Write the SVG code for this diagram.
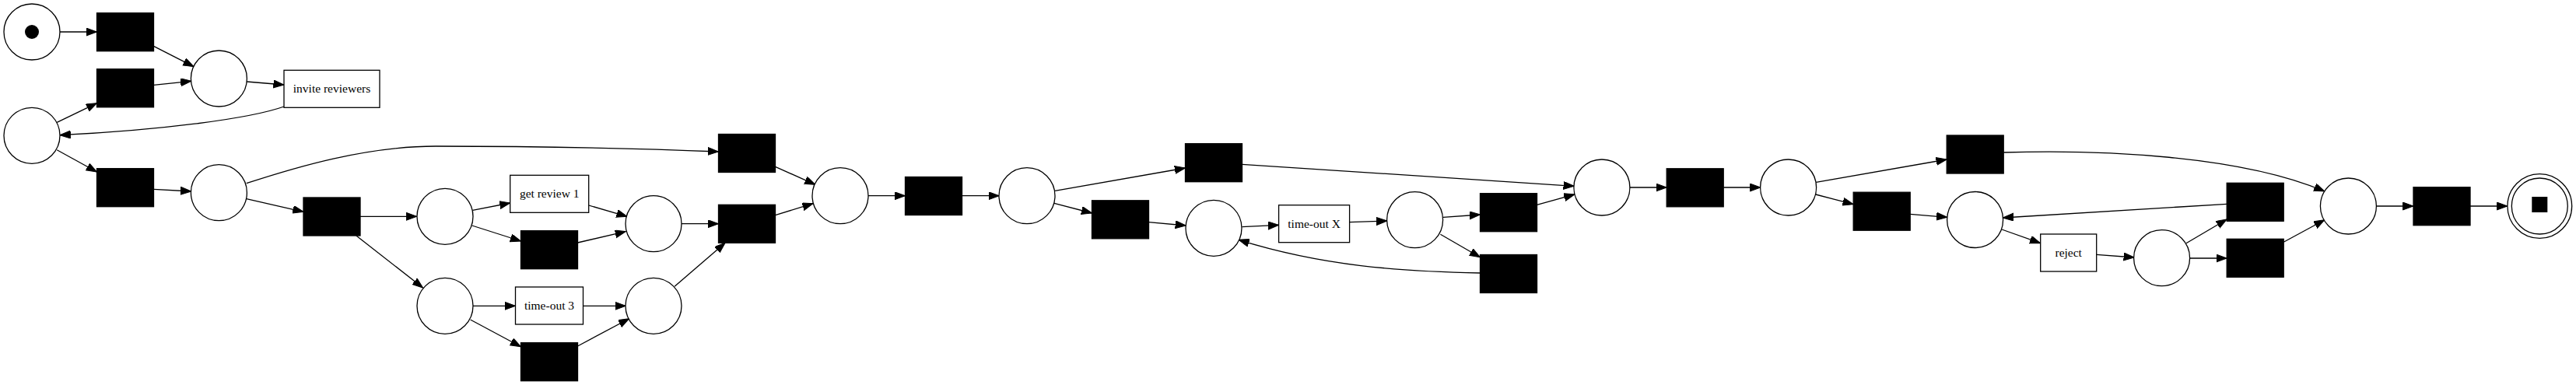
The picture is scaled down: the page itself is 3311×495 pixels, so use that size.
<svg xmlns="http://www.w3.org/2000/svg" width="3311" height="495" viewBox="0 0 3311 495">
<style>
.pl{fill:#fff;stroke:#000;stroke-width:1.3}
.tr{fill:#000;stroke:#000;stroke-width:1.3}
.lt{fill:#fff;stroke:#000;stroke-width:1.3}
.lb{font-family:"Liberation Serif","Times New Roman",serif;font-size:15.5px;text-anchor:middle;fill:#000}
.e{fill:none;stroke:#000;stroke-width:1.3;marker-end:url(#ah)}
</style>
<defs>
<marker id="ah" markerUnits="userSpaceOnUse" markerWidth="14" markerHeight="11" refX="13.6" refY="5" orient="auto">
<path d="M0,0 L13.6,5 L0,10 z" fill="#000" stroke="#000" stroke-width="1"/>
</marker>
</defs>
<rect width="3311" height="495" fill="#fff"/>
<g id="connectors">
<path class="e" d="M77,41 L124.5,41"/>
<path class="e" d="M197.5,59.3 L249,85.7"/>
<path class="e" d="M197.5,109.3 L245.7,104.3"/>
<path class="e" d="M317.1,105 L365,109"/>
<path class="e" d="M365,137 C320,153 200,168 77.1,173.7"/>
<path class="e" d="M73.2,157.3 L124.5,132.7"/>
<path class="e" d="M73.2,192.7 L124.5,221"/>
<path class="e" d="M197.5,243.3 L245.7,246"/>
<path class="e" d="M316.8,235.7 C380,215 470,188 560,188 C700,188 850,192 923.5,195"/>
<path class="e" d="M316.8,255.7 L390,272.3"/>
<path class="e" d="M462.9,278.3 L535.7,278.3"/>
<path class="e" d="M457.9,303 L543.6,370"/>
<path class="e" d="M607.5,270.3 L655.7,261"/>
<path class="e" d="M606.8,290 L669.5,310"/>
<path class="e" d="M756.7,264 L806,278.3"/>
<path class="e" d="M742.5,312 L804.3,297.7"/>
<path class="e" d="M875.7,287.7 L923.5,287.7"/>
<path class="e" d="M607.5,393.3 L662.5,393.3"/>
<path class="e" d="M604.6,411 L669.5,445.7"/>
<path class="e" d="M749.5,393.3 L804.3,393.3"/>
<path class="e" d="M742.5,445 L808.6,409.7"/>
<path class="e" d="M867.1,368.3 L932.1,312.3"/>
<path class="e" d="M996.5,214.3 L1047.9,237.3"/>
<path class="e" d="M996.5,276.7 L1045,261.7"/>
<path class="e" d="M1116,251.7 L1163.5,251.7"/>
<path class="e" d="M1236.5,251.7 L1284.3,251.7"/>
<path class="e" d="M1356,245.3 L1523.5,216"/>
<path class="e" d="M1355,261.3 L1403.5,274"/>
<path class="e" d="M1476.5,285.7 L1524.3,290"/>
<path class="e" d="M1902.5,351 C1800,349 1700,342 1592,308.3"/>
<path class="e" d="M1596.4,291.7 L1643.6,289.3"/>
<path class="e" d="M1734.6,285.7 L1782.9,284"/>
<path class="e" d="M1855,279.3 L1902.5,276"/>
<path class="e" d="M1851.4,301.3 L1902.5,330.7"/>
<path class="e" d="M1596.5,211.3 L2023.2,239.3"/>
<path class="e" d="M1975.5,263.3 L2023.9,250"/>
<path class="e" d="M2094.6,241 L2142.2,241"/>
<path class="e" d="M2215.2,241 L2262.9,241"/>
<path class="e" d="M2334.3,234.3 L2502.2,205"/>
<path class="e" d="M2333.7,250 L2382.2,262.7"/>
<path class="e" d="M2455.2,275.3 L2502.7,279.3"/>
<path class="e" d="M2573,295 L2622.7,312.7"/>
<path class="e" d="M2862.2,262.3 L2574.3,280"/>
<path class="e" d="M2575.2,196 C2700,192 2880,200 2987.8,246"/>
<path class="e" d="M2694.7,327.3 L2743.2,331"/>
<path class="e" d="M2810,312.7 L2862.2,282"/>
<path class="e" d="M2814,332 L2862.2,332"/>
<path class="e" d="M2935.2,311.3 L2987.8,282.7"/>
<path class="e" d="M3054.2,265 L3102,265"/>
<path class="e" d="M3175,265 L3222.9,265"/>
</g>
<g id="p_start"><circle class="pl" cx="41" cy="41" r="36"/><circle cx="41" cy="41" r="9" fill="#000"/></g>
<g id="p1"><circle class="pl" cx="281.4" cy="101" r="36"/></g>
<g id="p_left"><circle class="pl" cx="41" cy="174.3" r="36"/></g>
<g id="p2"><circle class="pl" cx="281.4" cy="247.7" r="36"/></g>
<g id="p3"><circle class="pl" cx="572" cy="278.3" r="36"/></g>
<g id="p4"><circle class="pl" cx="572" cy="393.3" r="36"/></g>
<g id="p5"><circle class="pl" cx="840" cy="287.7" r="36"/></g>
<g id="p7"><circle class="pl" cx="840" cy="393.3" r="36"/></g>
<g id="p6"><circle class="pl" cx="1080" cy="251.7" r="36"/></g>
<g id="p8"><circle class="pl" cx="1320" cy="251.7" r="36"/></g>
<g id="p9"><circle class="pl" cx="1560" cy="293.3" r="36"/></g>
<g id="p10"><circle class="pl" cx="1818.6" cy="282.7" r="36"/></g>
<g id="p11"><circle class="pl" cx="2058.9" cy="241" r="36"/></g>
<g id="p12"><circle class="pl" cx="2298.6" cy="241" r="36"/></g>
<g id="p13"><circle class="pl" cx="2538.6" cy="282.5" r="36"/></g>
<g id="p15"><circle class="pl" cx="2778.6" cy="331.7" r="36"/></g>
<g id="p14"><circle class="pl" cx="3018.4" cy="265" r="36"/></g>
<g id="p_end"><circle class="pl" cx="3264.3" cy="265" r="41.4"/><circle class="pl" cx="3264.3" cy="265" r="36"/><rect x="3254.3" y="253" width="20" height="20" fill="#000"/></g>
<g id="t1"><rect class="tr" x="124.5" y="16.7" width="73" height="49"/></g>
<g id="t2"><rect class="tr" x="124.5" y="88.8" width="73" height="49"/></g>
<g id="t3"><rect class="tr" x="124.5" y="216.7" width="73" height="49"/></g>
<g id="t4"><rect class="tr" x="390" y="254" width="73" height="49"/></g>
<g id="t5"><rect class="tr" x="923.5" y="172.5" width="73" height="49"/></g>
<g id="t6"><rect class="tr" x="669.5" y="296.7" width="73" height="49"/></g>
<g id="t7"><rect class="tr" x="923.5" y="263.3" width="73" height="49"/></g>
<g id="t8"><rect class="tr" x="669.5" y="440.7" width="73" height="49"/></g>
<g id="t9"><rect class="tr" x="1163.5" y="227.5" width="73" height="49"/></g>
<g id="t10"><rect class="tr" x="1523.5" y="184.7" width="73" height="49"/></g>
<g id="t11"><rect class="tr" x="1403.5" y="257.8" width="73" height="49"/></g>
<g id="t12"><rect class="tr" x="1902.5" y="248.7" width="73" height="49"/></g>
<g id="t13"><rect class="tr" x="1902.5" y="327.5" width="73" height="49"/></g>
<g id="t14"><rect class="tr" x="2142.2" y="216.8" width="73" height="49"/></g>
<g id="t15"><rect class="tr" x="2502.2" y="174" width="73" height="49"/></g>
<g id="t16"><rect class="tr" x="2382.2" y="247.2" width="73" height="49"/></g>
<g id="t17"><rect class="tr" x="2862.2" y="235.3" width="73" height="49"/></g>
<g id="t18"><rect class="tr" x="2862.2" y="307.3" width="73" height="49"/></g>
<g id="t19"><rect class="tr" x="3102" y="240.7" width="73" height="49"/></g>
<g id="t_invite"><rect class="lt" x="365" y="90.3" width="123" height="48"/><text class="lb" x="426.5" y="119.3">invite reviewers</text></g>
<g id="t_review1"><rect class="lt" x="655.7" y="225.3" width="101" height="48"/><text class="lb" x="706.2" y="254.3">get review 1</text></g>
<g id="t_timeout3"><rect class="lt" x="662.5" y="369" width="87" height="48"/><text class="lb" x="706" y="398">time-out 3</text></g>
<g id="t_timeoutx"><rect class="lt" x="1643.6" y="263.7" width="91" height="48"/><text class="lb" x="1689.1" y="292.7">time-out X</text></g>
<g id="t_reject"><rect class="lt" x="2622.7" y="301" width="72" height="48"/><text class="lb" x="2658.7" y="330">reject</text></g>
</svg>
